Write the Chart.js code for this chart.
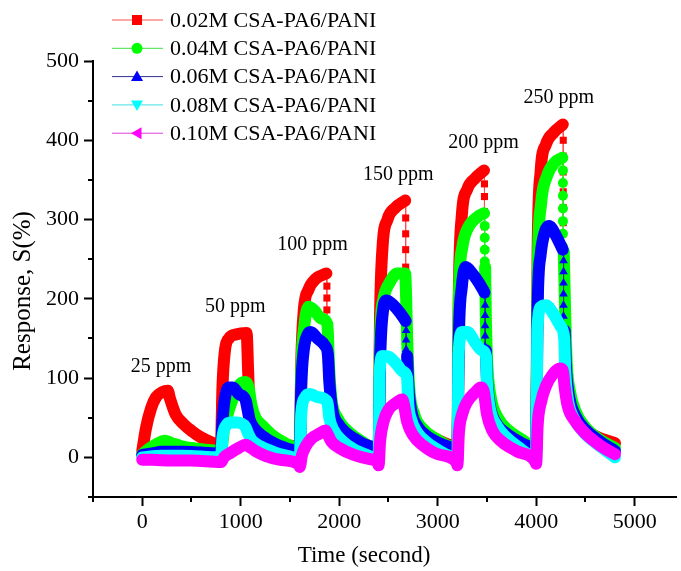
<!DOCTYPE html>
<html>
<head>
<meta charset="utf-8">
<script src="https://cdn.jsdelivr.net/npm/chart.js@4.4.0/dist/chart.umd.min.js"></script>
<style>
  html, body { margin: 0; padding: 0; background: #fff; }
  #chart { display: block; }
</style>
</head>
<body>
<canvas id="chart" width="681" height="571"></canvas>
<script>
const FONT = '"Liberation Serif", "Times New Roman", serif'

// axis ticks
const xMajor = [0, 1000, 2000, 3000, 4000, 5000]
const xMinor = [-500, 500, 1500, 2500, 3500, 4500]
const yMajor = [0, 100, 200, 300, 400, 500]
const yMinor = [-50, 50, 150, 250, 350, 450]
const xTitle = 'Time (second)'
const yTitle = 'Response, S(%)'

// concentration labels over each exposure
const ppmText = ['25 ppm', '50 ppm', '100 ppm', '150 ppm', '200 ppm', '250 ppm']
const ppmX = [190, 945, 1730, 2600, 3465, 4230]
const ppmY = [114, 190, 268, 357, 397, 454]

const seriesNames = ['0.02M CSA-PA6/PANI', '0.04M CSA-PA6/PANI', '0.06M CSA-PA6/PANI', '0.08M CSA-PA6/PANI', '0.10M CSA-PA6/PANI']
const seriesColors = ['#ff0000', '#00ff00', '#0000ff', '#00ffff', '#ff00ff']
const lineColors = ['#ff5050', '#40e040', '#303090', '#40e0e0', '#e040e0']
const seriesMarkers = ['rect', 'circle', 'up', 'down', 'left']

// 0.02M response (s, %), null = break where the recovery drop starts
const tRed = [0, 40, 90, 140, 200, 260, 280, 340, 420, 505, 600, 700, 790,
  800, 815, 840, 880, 950, 1060, 1075, 1090, 1120, 1200, 1350, 1480, 1590,
  1600, 1615, 1640, 1690, 1760, 1870, 1880, 1900, 1960, 2050, 2200, 2390,
  2400, 2415, 2440, 2490, 2570, 2670, 2680, 2700, 2760, 2850, 3000, 3190,
  3200, 3215, 3245, 3300, 3380, 3470, 3480, 3500, 3560, 3650, 3800, 3990,
  4000, 4015, 4045, 4100, 4180, 4270, 4280, 4300, 4360, 4450, 4600, 4800]
const sRed = [8, 38, 62, 76, 82, 84, 75, 54, 42, 33, 25, 19, 15,
  18, 90, 135, 150, 155, 157, 110, 60, 42, 30, 20, 15, 12,
  10, 120, 185, 212, 225, 232, null, 60, 42, 30, 20, 12,
  12, 180, 265, 300, 315, 324, null, 80, 50, 35, 22, 14,
  14, 210, 305, 338, 352, 362, null, 90, 55, 38, 24, 15,
  15, 260, 360, 395, 410, 420, null, 100, 60, 40, 27, 18]

// 0.04M response
const tGreen = [0, 60, 150, 230, 300, 400, 550, 700, 790,
  800, 830, 880, 940, 1000, 1050, 1080, 1110, 1150, 1220, 1320, 1450, 1590,
  1600, 1615, 1645, 1690, 1750, 1820, 1880, 1895, 1920, 1980, 2080, 2230, 2390,
  2400, 2415, 2450, 2510, 2590, 2670, 2680, 2690, 2710, 2760, 2850, 3000, 3190,
  3200, 3215, 3250, 3310, 3400, 3470, 3475, 3482, 3490, 3505, 3540, 3610, 3720, 3860, 3990,
  4000, 4015, 4050, 4110, 4190, 4265, 4270, 4280, 4295, 4310, 4340, 4400, 4500, 4650, 4800]
const sGreen = [4, 10, 17, 21, 18, 14, 11, 9, 8,
  8, 35, 60, 80, 93, 95, 88, 65, 50, 40, 28, 18, 9,
  8, 110, 165, 190, 185, 175, 168, 120, 75, 50, 34, 20, 10,
  10, 150, 200, 220, 232, 232, 200, 150, 90, 55, 36, 22, 12,
  12, 200, 265, 290, 303, 308, null, 240, 170, 115, 75, 50, 34, 22, 13,
  13, 230, 320, 355, 372, 378, null, 260, 180, 120, 85, 58, 38, 22, 12]

// 0.06M response
const tBlue = [0, 100, 200, 400, 600, 790,
  800, 815, 840, 880, 920, 980, 1050, 1070, 1090, 1130, 1220, 1350, 1500, 1590,
  1600, 1615, 1640, 1680, 1710, 1780, 1860, 1885, 1900, 1930, 1990, 2080, 2230, 2390,
  2400, 2415, 2445, 2480, 2550, 2620, 2675, 2680, 2690, 2700, 2730, 2800, 2900, 3050, 3190,
  3200, 3215, 3245, 3285, 3350, 3420, 3475, 3480, 3490, 3500, 3530, 3600, 3700, 3850, 3990,
  4000, 4015, 4045, 4090, 4130, 4200, 4270, 4275, 4290, 4300, 4330, 4400, 4500, 4650, 4800]
const sBlue = [3, 5, 7, 7, 6, 5,
  5, 45, 75, 88, 88, 80, 72, 60, 48, 38, 27, 17, 10, 6,
  5, 90, 135, 155, 158, 150, 140, 130, 95, 60, 42, 30, 18, 8,
  6, 120, 185, 198, 192, 182, 172, null, 128, 95, 60, 38, 26, 16, 8,
  6, 150, 215, 240, 232, 220, 208, null, 135, 100, 65, 42, 30, 18, 8,
  6, 190, 255, 285, 292, 280, 262, null, 160, 120, 80, 52, 35, 20, 8]

// 0.08M response
const tCyan = [0, 200, 400, 600, 790,
  800, 815, 850, 900, 960, 1050, 1075, 1110, 1200, 1350, 1500, 1590,
  1600, 1615, 1650, 1700, 1780, 1880, 1900, 1940, 2020, 2150, 2300, 2390,
  2400, 2412, 2440, 2500, 2580, 2650, 2690, 2700, 2730, 2800, 2900, 3050, 3190,
  3200, 3212, 3250, 3300, 3380, 3450, 3490, 3500, 3530, 3600, 3700, 3850, 3990,
  4000, 4012, 4050, 4100, 4180, 4250, 4285, 4295, 4320, 4380, 4480, 4650, 4800]
const sCyan = [0, 2, 2, 1, 0,
  0, 25, 40, 44, 44, 38, 30, 22, 14, 6, 1, -2,
  -2, 55, 75, 80, 76, 70, 50, 35, 22, 10, 2, -2,
  -3, 110, 128, 127, 118, 108, 100, 70, 48, 30, 18, 6, -3,
  -4, 130, 158, 158, 145, 135, 128, 95, 62, 40, 25, 10, -3,
  -4, 160, 190, 192, 180, 165, 150, 110, 75, 50, 32, 14, 0]

// 0.10M response
const tMagenta = [0, 100, 300, 500, 790,
  800, 830, 900, 980, 1050, 1080, 1150, 1250, 1400, 1590,
  1600, 1620, 1660, 1720, 1800, 1860, 1880, 1920, 2000, 2150, 2300, 2390,
  2400, 2415, 2450, 2500, 2570, 2640, 2660, 2690, 2750, 2850, 3000, 3190,
  3200, 3215, 3250, 3300, 3380, 3440, 3470, 3500, 3550, 3650, 3800, 3990,
  4000, 4015, 4050, 4100, 4170, 4240, 4270, 4290, 4320, 4400, 4500, 4650, 4800]
const sMagenta = [-3, -3, -4, -4, -6,
  -6, 0, 6, 12, 16, 14, 8, 2, -3, -9,
  -12, 2, 14, 24, 30, 34, 30, 20, 12, 3, -2, -6,
  -10, 20, 45, 60, 68, 73, 65, 45, 28, 15, 4, -6,
  -10, 30, 55, 70, 82, 88, 82, 55, 35, 20, 8, -5,
  -8, 40, 70, 90, 105, 112, 110, 88, 65, 45, 30, 15, 4]

// sparse points on the steep recovery drops
const dropRedT = [1875, 1875, 1875, 1875, 1875, 1875,
  2675, 2675, 2675, 2675, 2675, 2675,
  3475, 3475, 3475, 3475, 3475, 3475,
  4275, 4275, 4275, 4275, 4275, 4275, 4275]
const dropRedS = [232, 216, 201, 186, 171, null,
  324, 302, 282, 262, 240, null,
  362, 345, 329, 310, 291, null,
  420, 400, 380, 360, 335, 315, 296]
const dropGreenT = [3478, 3478, 3478, 3478, 3478, 3478,
  4272, 4272, 4272, 4272, 4272, 4272, 4272, 4272]
const dropGreenS = [308, 292, 277, 262, 247, null,
  378, 362, 346, 330, 314, 298, 282, 266]
const dropBlueT = [2680, 2680, 2680, 2680, 2680,
  3482, 3482, 3482, 3482, 3482, 3482, 3482,
  4278, 4278, 4278, 4278, 4278, 4278, 4278, 4278]
const dropBlueS = [172, 160, 148, 136, null,
  205, 192, 179, 166, 153, 140, null,
  262, 248, 234, 220, 206, 192, 178, 165]

function points(t, s) {
  return t.map((x, i) => ({x: x, y: s[i]}))
}

const chartStyle = {
  rect: {pointStyle: 'rect', rotation: 0},
  circle: {pointStyle: 'circle', rotation: 0},
  up: {pointStyle: 'triangle', rotation: 0},
  down: {pointStyle: 'triangle', rotation: 180},
  left: {pointStyle: 'triangle', rotation: 270}
}

function band(i, t, s) {
  return {
    label: seriesNames[i],
    data: points(t, s),
    borderColor: seriesColors[i],
    borderWidth: 12,
    borderJoinStyle: 'round',
    borderCapStyle: 'round',
    cubicInterpolationMode: 'monotone',
    pointRadius: 0,
    spanGaps: false,
    order: 5 - i
  }
}

function drop(i, t, s) {
  return {
    label: seriesNames[i] + ' drop',
    data: points(t, s),
    borderColor: lineColors[i],
    borderWidth: 1,
    pointRadius: 5,
    pointBorderWidth: 0,
    pointBackgroundColor: seriesColors[i],
    pointStyle: chartStyle[seriesMarkers[i]].pointStyle,
    pointRotation: chartStyle[seriesMarkers[i]].rotation,
    spanGaps: false,
    order: 5 - i
  }
}

function drawMarker(ctx, kind, x, y, r, color) {
  ctx.fillStyle = color
  ctx.beginPath()
  if (kind === 'rect') {
    ctx.rect(x - r, y - r, 2 * r, 2 * r)
  } else if (kind === 'circle') {
    ctx.arc(x, y, r * 1.1, 0, Math.PI * 2)
  } else if (kind === 'up') {
    ctx.moveTo(x, y - r * 1.2); ctx.lineTo(x + r * 1.2, y + r * 0.9); ctx.lineTo(x - r * 1.2, y + r * 0.9)
  } else if (kind === 'down') {
    ctx.moveTo(x, y + r * 1.2); ctx.lineTo(x + r * 1.2, y - r * 0.9); ctx.lineTo(x - r * 1.2, y - r * 0.9)
  } else if (kind === 'left') {
    ctx.moveTo(x - r * 1.2, y); ctx.lineTo(x + r * 0.9, y - r * 1.2); ctx.lineTo(x + r * 0.9, y + r * 1.2)
  }
  ctx.closePath()
  ctx.fill()
}

const extras = {
  id: 'extras',
  afterDraw(chart) {
    const ctx = chart.ctx
    const xs = chart.scales.x
    const ys = chart.scales.y
    const area = chart.chartArea
    ctx.save()
    // minor ticks
    ctx.strokeStyle = '#000'
    ctx.lineWidth = 2
    ctx.beginPath()
    xMinor.forEach(v => {
      const px = Math.round(xs.getPixelForValue(v))
      ctx.moveTo(px, area.bottom)
      ctx.lineTo(px, area.bottom + 5)
    })
    yMinor.forEach(v => {
      const py = Math.round(ys.getPixelForValue(v))
      ctx.moveTo(area.left, py)
      ctx.lineTo(area.left - 5, py)
    })
    ctx.stroke()

    // axis titles
    ctx.fillStyle = '#000'
    ctx.textAlign = 'center'
    ctx.textBaseline = 'middle'
    ctx.font = '23px ' + FONT
    ctx.fillText(xTitle, 364, 556)
    ctx.save()
    ctx.translate(23, 291)
    ctx.rotate(-Math.PI / 2)
    ctx.font = '25px ' + FONT
    ctx.fillText(yTitle, 0, 0)
    ctx.restore()

    // concentration labels
    ctx.font = '20px ' + FONT
    ppmText.forEach((txt, i) => {
      ctx.fillText(txt, xs.getPixelForValue(ppmX[i]), ys.getPixelForValue(ppmY[i]))
    })

    // legend
    ctx.font = '22px ' + FONT
    ctx.textAlign = 'left'
    seriesNames.forEach((name, i) => {
      const y = 20 + i * 28.3
      ctx.strokeStyle = lineColors[i]
      ctx.lineWidth = 1
      ctx.beginPath()
      ctx.moveTo(112, y)
      ctx.lineTo(163, y)
      ctx.stroke()
      drawMarker(ctx, seriesMarkers[i], 137, y, 5, seriesColors[i])
      ctx.fillStyle = '#000'
      ctx.fillText(name, 170, y + 1)
    })
    ctx.restore()
  }
}

const datasets = [
  band(0, tRed, sRed), drop(0, dropRedT, dropRedS),
  band(1, tGreen, sGreen), drop(1, dropGreenT, dropGreenS),
  band(2, tBlue, sBlue), drop(2, dropBlueT, dropBlueS),
  band(3, tCyan, sCyan),
  band(4, tMagenta, sMagenta)
]

new Chart(document.getElementById('chart'), {
  type: 'line',
  data: {datasets: datasets},
  options: {
    responsive: false,
    animation: false,
    devicePixelRatio: 1,
    layout: {padding: {top: 61, right: 0, bottom: 0, left: 0}},
    plugins: {legend: {display: false}, tooltip: {enabled: false}},
    scales: {
      x: {
        type: 'linear',
        min: -500,
        max: 5420,
        afterBuildTicks: scale => { scale.ticks = xMajor.map(v => ({value: v})) },
        afterFit: scale => { scale.height = 74 },
        ticks: {color: '#000', font: {family: FONT, size: 22}, padding: 3, maxRotation: 0, callback: v => String(v)},
        grid: {display: true, drawOnChartArea: false, drawTicks: true, tickLength: 9, tickWidth: 2, tickColor: '#000'},
        border: {display: true, color: '#000', width: 2},
        title: {display: false}
      },
      y: {
        type: 'linear',
        min: -50,
        max: 500,
        afterBuildTicks: scale => { scale.ticks = yMajor.map(v => ({value: v})) },
        afterFit: scale => { scale.width = 93 },
        ticks: {color: '#000', font: {family: FONT, size: 22}, padding: 5, callback: v => String(v)},
        grid: {display: true, drawOnChartArea: false, drawTicks: true, tickLength: 9, tickWidth: 2, tickColor: '#000'},
        border: {display: true, color: '#000', width: 2},
        title: {display: false}
      }
    }
  },
  plugins: [extras]
})
</script>
</body>
</html>
